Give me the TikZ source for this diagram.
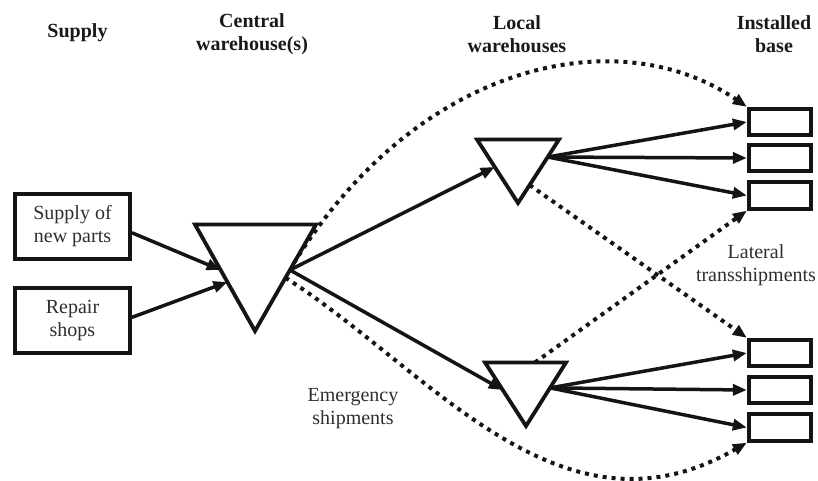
\documentclass[tikz,border=0pt]{standalone}
\usepackage{fontspec}
\setmainfont{Liberation Serif}
\usetikzlibrary{arrows.meta,calc}
\begin{document}
\begin{tikzpicture}[x=1pt,y=-1pt,
  box/.style={draw=black!92,line width=3.8pt,minimum width=115pt,minimum height=65.5pt,inner sep=0pt,align=center,text=black!82,font=\fontsize{20}{23}\selectfont},
  ibox/.style={draw=black!92,line width=3.8pt,minimum width=62.5pt,minimum height=26.5pt,inner sep=0pt},
  head/.style={font=\bfseries\fontsize{20}{23}\selectfont,align=center,inner sep=0pt,text=black!90},
  lbl/.style={font=\fontsize{20}{23}\selectfont,align=center,inner sep=0pt,text=black!82},
  tri/.style={draw=black!92,line width=3.8pt,line join=miter},
  flow/.style={draw=black!92,line width=3.5pt,-{Triangle[length=14pt,width=11pt]}},
  emer/.style={draw=black!92,line width=4pt,dash pattern=on 4pt off 5pt,-{Triangle[length=14pt,width=11pt]}}
]
\useasboundingbox (0,0) rectangle (818,481);

% headers
\node[head] (hs) at (77.5,33) {Supply};
\node[head] (hc) at (252,34) {Central\\warehouse(s)};
\node[head] (hl) at (517,34) {Local\\warehouses};
\node[head] (hi) at (774,34) {Installed\\base};

% supply boxes
\node[box] (sup) at (72.5,226.5) {Supply of\\new parts};
\node[box] (rep) at (72.5,320.5) {Repair\\shops};

% installed base boxes
\node[ibox] (ib1) at (780,122) {};
\node[ibox] (ib2) at (780,158) {};
\node[ibox] (ib3) at (780,195.5) {};
\node[ibox] (ib4) at (780,353) {};
\node[ibox] (ib5) at (780,390) {};
\node[ibox] (ib6) at (780,427.5) {};

% central warehouse triangle
\coordinate (cTL) at (195,224.5);
\coordinate (cTR) at (316,224.5);
\coordinate (cB)  at (255,331);
\draw[tri] (cTL) -- (cTR) -- (cB) -- cycle;
% upper local warehouse
\coordinate (uTL) at (477,139.5);
\coordinate (uTR) at (559,139.5);
\coordinate (uB)  at (518,203);
\draw[tri] (uTL) -- (uTR) -- (uB) -- cycle;
% lower local warehouse
\coordinate (lTL) at (485,362.5);
\coordinate (lTR) at (566,362.5);
\coordinate (lB)  at (526,426);
\draw[tri] (lTL) -- (lTR) -- (lB) -- cycle;

% connection points on triangle edges
\coordinate (ctL1) at ($(cTL)!0.427!(cB)$);
\coordinate (ctL2) at ($(cTL)!0.54!(cB)$);
\coordinate (ctR)  at ($(cTR)!0.427!(cB)$);
\coordinate (ctRu) at ($(cTR)!0.36!(cB)$);
\coordinate (ctRd) at ($(cTR)!0.5!(cB)$);
\coordinate (ulL)  at ($(uTL)!0.433!(uB)$);
\coordinate (ulR)  at ($(uTR)!0.276!(uB)$);
\coordinate (ulD)  at ($(uTR)!0.717!(uB)$);
\coordinate (llL)  at ($(lTL)!0.433!(lB)$);
\coordinate (llR)  at ($(lTR)!0.40!(lB)$);
\coordinate (llT)  at ($(lTL)!0.617!(lTR)$);

% solid flows
\draw[flow] (sup.-6) -- (ctL1);
\draw[flow] (rep.3) -- (ctL2);
\draw[flow] (ctR) -- (ulL);
\draw[flow] (ctR) -- (llL);
\draw[flow] (ulR) -- (ib1.west);
\draw[flow] (ulR) -- (ib2.west);
\draw[flow] (ulR) -- (ib3.west);
\draw[flow] (llR) -- (ib4.west);
\draw[flow] (llR) -- (ib5.west);
\draw[flow] (llR) -- (ib6.west);

% emergency shipments
\draw[emer] (ctRu) .. controls (420,60) and (620,20) .. (ib1.north west);
\draw[emer] (ctRd) .. controls (430,370) and (560,550) .. (ib6.south west);
% lateral transshipments
\draw[emer] (ulD) -- (ib4.north west);
\draw[emer] (llT) -- (ib3.south west);

% labels
\node[lbl] (le) at (353,409) {Emergency\\shipments};
\node[lbl] (ll) at (756,265) {Lateral\\transshipments};
\end{tikzpicture}
\end{document}
